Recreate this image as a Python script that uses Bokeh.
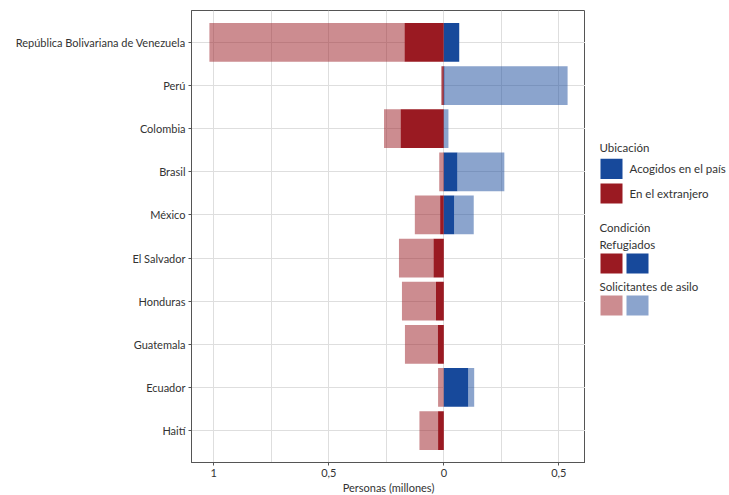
import numpy as np
from bokeh.plotting import figure
from bokeh.models import ColumnDataSource, FactorRange, FixedTicker, Range1d
from bokeh.layouts import row
from bokeh.embed import file_html
from bokeh.resources import INLINE
from bokeh.core.properties import value

countries = ["República Bolivariana de Venezuela", "Perú", "Colombia", "Brasil", "México",
             "El Salvador", "Honduras", "Guatemala", "Ecuador", "Haití"]
# millions of people
ref_ext = [0.171, 0.007, 0.188, 0.002, 0.016, 0.045, 0.034, 0.026, 0.001, 0.025]
sol_ext = [0.848, 0.005, 0.072, 0.018, 0.110, 0.150, 0.148, 0.143, 0.024, 0.081]
ref_acog = [0.067, 0.003, 0.001, 0.059, 0.045, 0.0, 0.0, 0.0, 0.106, 0.0]
sol_acog = [0.0, 0.535, 0.019, 0.204, 0.085, 0.0, 0.0, 0.0, 0.026, 0.0]

x_ticks = [-1, -0.5, 0, 0.5]
x_tick_labels = ["1", "0,5", "0", "0,5"]
x_minor = [-0.75, -0.25, 0.25]
x_title = "Personas (millones)"

leg_title1 = "Ubicación"
leg_items1 = ["Acogidos en el país", "En el extranjero"]
leg_title2 = "Condición"
leg_items2 = ["Refugiados", "Solicitantes de asilo"]

RED = "#9a1a22"
BLUE = "#17499b"
TXT = "#333333"
FONT = "Lato"
FS = "11px"
LFS = "11.5px"

re = np.array(ref_ext); se = np.array(sol_ext)
ra = np.array(ref_acog); sa = np.array(sol_acog)

src = ColumnDataSource(dict(
    c=countries,
    re_l=-re, re_r=np.zeros_like(re),
    se_l=-(re + se), se_r=-re,
    ra_l=np.zeros_like(ra), ra_r=ra,
    sa_l=ra, sa_r=ra + sa,
))

xmin = -(re + se).max()
xmax = (ra + sa).max()
span = xmax - xmin

p = figure(y_range=FactorRange(factors=countries[::-1], range_padding=0.24,
                               range_padding_units="absolute"),
           x_range=Range1d(xmin - 0.05 * span, xmax + 0.05 * span),
           frame_width=394, frame_height=452,
           min_border_left=191, min_border_top=10, min_border_right=0, min_border_bottom=0,
           output_backend="svg", toolbar_location=None)

H = 0.9
p.hbar(y="c", left="re_l", right="re_r", height=H, source=src, fill_color=RED, line_color=None)
p.hbar(y="c", left="se_l", right="se_r", height=H, source=src, fill_color=RED, fill_alpha=0.5, line_color=None)
p.hbar(y="c", left="ra_l", right="ra_r", height=H, source=src, fill_color=BLUE, line_color=None)
p.hbar(y="c", left="sa_l", right="sa_r", height=H, source=src, fill_color=BLUE, fill_alpha=0.5, line_color=None)

p.xaxis.ticker = FixedTicker(ticks=x_ticks, minor_ticks=x_minor)
p.xaxis.major_label_overrides = dict(zip(x_ticks, x_tick_labels))
p.xaxis.axis_label = x_title
p.xaxis.axis_label_text_font_style = "normal"
p.xaxis.axis_label_standoff = 1
p.xaxis.major_label_standoff = 2

for ax in (p.xaxis[0], p.yaxis[0]):
    ax.axis_line_color = "#555555"
    ax.major_tick_line_color = "#555555"
    ax.major_tick_out = 3
    ax.major_tick_in = 0
    ax.minor_tick_line_color = None
    ax.major_label_text_font = FONT
    ax.major_label_text_font_size = FS
    ax.major_label_text_color = TXT
    ax.axis_label_text_font = FONT
    ax.axis_label_text_font_size = FS
    ax.axis_label_text_color = TXT
p.yaxis.major_label_standoff = 3

p.xgrid.grid_line_color = "#dedede"
p.xgrid.minor_grid_line_color = "#dedede"
p.ygrid.grid_line_color = "#dedede"
p.outline_line_color = "#555555"
p.outline_line_width = 1
p.background_fill_color = "white"

# legend panel (coordinates in page pixels)
lg = figure(width=144, height=490, x_range=Range1d(585, 729), y_range=Range1d(490, 0),
            min_border=0, output_backend="svg", toolbar_location=None)
lg.axis.visible = False
lg.grid.visible = False
lg.outline_line_color = None

lg.quad(left=[600, 600], right=[622, 622], top=[163, 190], bottom=[185, 212],
        fill_color=[BLUE, RED], line_color=None)
lg.quad(left=[600, 626, 600, 626], right=[622, 648, 622, 648],
        top=[267, 267, 313, 313], bottom=[289, 289, 335, 335],
        fill_color=[RED, BLUE, RED, BLUE], fill_alpha=[1, 1, 0.5, 0.5], line_color=None)

lg.text(x=[599, 599], y=[150, 238], text=[leg_title1, leg_title2],
        text_font=value(FONT), text_font_size=LFS, text_color=TXT, text_baseline="middle")
lg.text(x=[629, 629], y=[174, 201], text=leg_items1,
        text_font=value(FONT), text_font_size=LFS, text_color=TXT, text_baseline="middle")
lg.text(x=[599, 599], y=[257, 303], text=leg_items2,
        text_font=value(FONT), text_font_size=LFS, text_color=TXT, text_baseline="middle")

layout = row(p, lg)
open("out.html", "w").write(file_html(layout, INLINE))
